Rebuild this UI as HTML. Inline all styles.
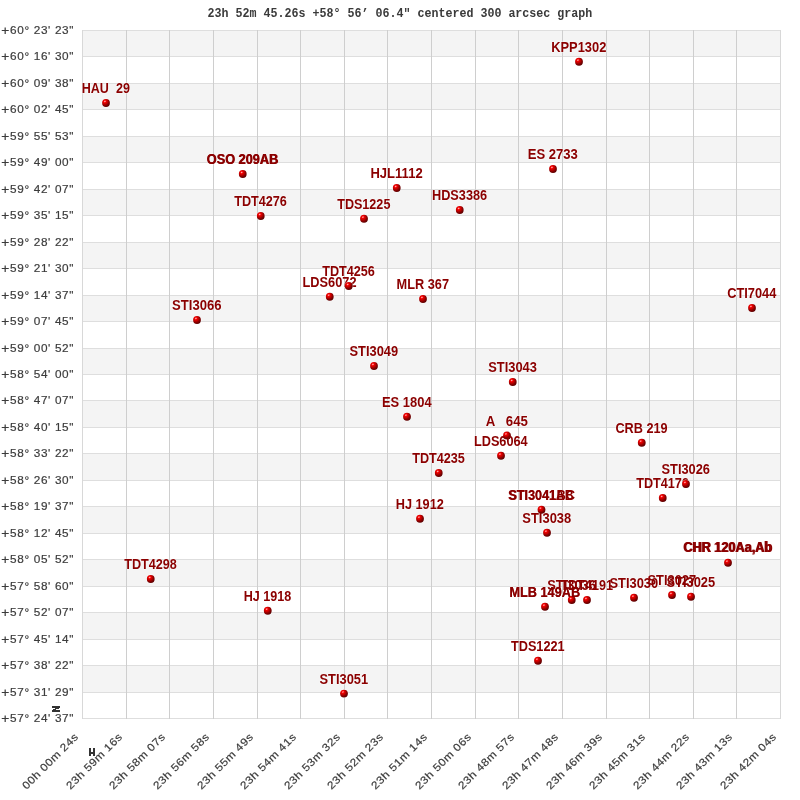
<!DOCTYPE html>
<html><head><meta charset="utf-8"><title>graph</title>
<style>
html,body{margin:0;padding:0;background:#fff;}
svg{display:block;will-change:transform;}
.ax{font-family:"Liberation Sans",sans-serif;font-size:10.7px;fill:#3c3c3c;stroke:#3c3c3c;stroke-width:0.18px;}
.lb{font-family:"Liberation Sans",sans-serif;font-weight:bold;font-size:14px;fill:#8b0000;}
.tt{font-family:"Liberation Mono",monospace;font-weight:bold;font-size:13.5px;fill:#3a3a3a;}
</style></head><body>
<svg width="800" height="800" viewBox="0 0 800 800">
<defs><radialGradient id="g" cx="0.36" cy="0.32" r="0.8" fx="0.34" fy="0.28"><stop offset="0" stop-color="#ff6060"/><stop offset="0.08" stop-color="#ff1818"/><stop offset="0.22" stop-color="#f00000"/><stop offset="0.42" stop-color="#c20000"/><stop offset="0.66" stop-color="#840000"/><stop offset="0.9" stop-color="#5a0000"/></radialGradient>
<g id="p"><circle r="4.6" fill="#fff" fill-opacity="0.55"/><circle r="3.9" fill="url(#g)"/><ellipse cx="-1.0" cy="-1.6" rx="1.0" ry="0.6" fill="#fff" fill-opacity="0.55" transform="rotate(-25 -1 -1.6)"/></g></defs>
<rect width="800" height="800" fill="#fff"/>
<g shape-rendering="crispEdges">
<rect x="82" y="30" width="699" height="26" fill="#f4f4f4"/>
<rect x="82" y="83" width="699" height="26" fill="#f4f4f4"/>
<rect x="82" y="136" width="699" height="26" fill="#f4f4f4"/>
<rect x="82" y="189" width="699" height="26" fill="#f4f4f4"/>
<rect x="82" y="242" width="699" height="26" fill="#f4f4f4"/>
<rect x="82" y="295" width="699" height="26" fill="#f4f4f4"/>
<rect x="82" y="348" width="699" height="26" fill="#f4f4f4"/>
<rect x="82" y="400" width="699" height="27" fill="#f4f4f4"/>
<rect x="82" y="453" width="699" height="27" fill="#f4f4f4"/>
<rect x="82" y="506" width="699" height="27" fill="#f4f4f4"/>
<rect x="82" y="559" width="699" height="27" fill="#f4f4f4"/>
<rect x="82" y="612" width="699" height="27" fill="#f4f4f4"/>
<rect x="82" y="665" width="699" height="27" fill="#f4f4f4"/>
<rect x="82" y="30" width="699" height="1" fill="#dedede"/>
<rect x="82" y="56" width="699" height="1" fill="#dedede"/>
<rect x="82" y="83" width="699" height="1" fill="#dedede"/>
<rect x="82" y="109" width="699" height="1" fill="#dedede"/>
<rect x="82" y="136" width="699" height="1" fill="#dedede"/>
<rect x="82" y="162" width="699" height="1" fill="#dedede"/>
<rect x="82" y="189" width="699" height="1" fill="#dedede"/>
<rect x="82" y="215" width="699" height="1" fill="#dedede"/>
<rect x="82" y="242" width="699" height="1" fill="#dedede"/>
<rect x="82" y="268" width="699" height="1" fill="#dedede"/>
<rect x="82" y="295" width="699" height="1" fill="#dedede"/>
<rect x="82" y="321" width="699" height="1" fill="#dedede"/>
<rect x="82" y="348" width="699" height="1" fill="#dedede"/>
<rect x="82" y="374" width="699" height="1" fill="#dedede"/>
<rect x="82" y="400" width="699" height="1" fill="#dedede"/>
<rect x="82" y="427" width="699" height="1" fill="#dedede"/>
<rect x="82" y="453" width="699" height="1" fill="#dedede"/>
<rect x="82" y="480" width="699" height="1" fill="#dedede"/>
<rect x="82" y="506" width="699" height="1" fill="#dedede"/>
<rect x="82" y="533" width="699" height="1" fill="#dedede"/>
<rect x="82" y="559" width="699" height="1" fill="#dedede"/>
<rect x="82" y="586" width="699" height="1" fill="#dedede"/>
<rect x="82" y="612" width="699" height="1" fill="#dedede"/>
<rect x="82" y="639" width="699" height="1" fill="#dedede"/>
<rect x="82" y="665" width="699" height="1" fill="#dedede"/>
<rect x="82" y="692" width="699" height="1" fill="#dedede"/>
<rect x="82" y="718" width="699" height="1" fill="#dedede"/>
<rect x="82" y="30" width="1" height="689" fill="#d8d8d8"/>
<rect x="126" y="30" width="1" height="689" fill="#cecece"/>
<rect x="169" y="30" width="1" height="689" fill="#cecece"/>
<rect x="213" y="30" width="1" height="689" fill="#cecece"/>
<rect x="257" y="30" width="1" height="689" fill="#cecece"/>
<rect x="300" y="30" width="1" height="689" fill="#cecece"/>
<rect x="344" y="30" width="1" height="689" fill="#cecece"/>
<rect x="387" y="30" width="1" height="689" fill="#cecece"/>
<rect x="431" y="30" width="1" height="689" fill="#cecece"/>
<rect x="475" y="30" width="1" height="689" fill="#cecece"/>
<rect x="518" y="30" width="1" height="689" fill="#cecece"/>
<rect x="562" y="30" width="1" height="689" fill="#cecece"/>
<rect x="606" y="30" width="1" height="689" fill="#cecece"/>
<rect x="649" y="30" width="1" height="689" fill="#cecece"/>
<rect x="693" y="30" width="1" height="689" fill="#cecece"/>
<rect x="736" y="30" width="1" height="689" fill="#cecece"/>
<rect x="780" y="30" width="1" height="689" fill="#d8d8d8"/>
</g>
<text class="tt" transform="translate(207.5,17) scale(0.8642,1)" xml:space="preserve">23h 52m 45.26s +58° 56’ 06.4&quot; centered 300 arcsec graph</text>
<text class="ax" transform="translate(1.3,34.60) scale(1.28,1.22)">+</text>
<text class="ax" transform="translate(10.1,34.30) scale(1.100,1)" letter-spacing="0.591" xml:space="preserve">60° 23' 23&quot;</text>
<text class="ax" transform="translate(1.3,60.60) scale(1.28,1.22)">+</text>
<text class="ax" transform="translate(10.1,60.30) scale(1.100,1)" letter-spacing="0.591" xml:space="preserve">60° 16' 30&quot;</text>
<text class="ax" transform="translate(1.3,87.60) scale(1.28,1.22)">+</text>
<text class="ax" transform="translate(10.1,87.30) scale(1.100,1)" letter-spacing="0.591" xml:space="preserve">60° 09' 38&quot;</text>
<text class="ax" transform="translate(1.3,113.60) scale(1.28,1.22)">+</text>
<text class="ax" transform="translate(10.1,113.30) scale(1.100,1)" letter-spacing="0.591" xml:space="preserve">60° 02' 45&quot;</text>
<text class="ax" transform="translate(1.3,140.60) scale(1.28,1.22)">+</text>
<text class="ax" transform="translate(10.1,140.30) scale(1.100,1)" letter-spacing="0.591" xml:space="preserve">59° 55' 53&quot;</text>
<text class="ax" transform="translate(1.3,166.60) scale(1.28,1.22)">+</text>
<text class="ax" transform="translate(10.1,166.30) scale(1.100,1)" letter-spacing="0.591" xml:space="preserve">59° 49' 00&quot;</text>
<text class="ax" transform="translate(1.3,193.60) scale(1.28,1.22)">+</text>
<text class="ax" transform="translate(10.1,193.30) scale(1.100,1)" letter-spacing="0.591" xml:space="preserve">59° 42' 07&quot;</text>
<text class="ax" transform="translate(1.3,219.60) scale(1.28,1.22)">+</text>
<text class="ax" transform="translate(10.1,219.30) scale(1.100,1)" letter-spacing="0.591" xml:space="preserve">59° 35' 15&quot;</text>
<text class="ax" transform="translate(1.3,246.60) scale(1.28,1.22)">+</text>
<text class="ax" transform="translate(10.1,246.30) scale(1.100,1)" letter-spacing="0.591" xml:space="preserve">59° 28' 22&quot;</text>
<text class="ax" transform="translate(1.3,272.60) scale(1.28,1.22)">+</text>
<text class="ax" transform="translate(10.1,272.30) scale(1.100,1)" letter-spacing="0.591" xml:space="preserve">59° 21' 30&quot;</text>
<text class="ax" transform="translate(1.3,299.60) scale(1.28,1.22)">+</text>
<text class="ax" transform="translate(10.1,299.30) scale(1.100,1)" letter-spacing="0.591" xml:space="preserve">59° 14' 37&quot;</text>
<text class="ax" transform="translate(1.3,325.60) scale(1.28,1.22)">+</text>
<text class="ax" transform="translate(10.1,325.30) scale(1.100,1)" letter-spacing="0.591" xml:space="preserve">59° 07' 45&quot;</text>
<text class="ax" transform="translate(1.3,352.60) scale(1.28,1.22)">+</text>
<text class="ax" transform="translate(10.1,352.30) scale(1.100,1)" letter-spacing="0.591" xml:space="preserve">59° 00' 52&quot;</text>
<text class="ax" transform="translate(1.3,378.60) scale(1.28,1.22)">+</text>
<text class="ax" transform="translate(10.1,378.30) scale(1.100,1)" letter-spacing="0.591" xml:space="preserve">58° 54' 00&quot;</text>
<text class="ax" transform="translate(1.3,404.60) scale(1.28,1.22)">+</text>
<text class="ax" transform="translate(10.1,404.30) scale(1.100,1)" letter-spacing="0.591" xml:space="preserve">58° 47' 07&quot;</text>
<text class="ax" transform="translate(1.3,431.60) scale(1.28,1.22)">+</text>
<text class="ax" transform="translate(10.1,431.30) scale(1.100,1)" letter-spacing="0.591" xml:space="preserve">58° 40' 15&quot;</text>
<text class="ax" transform="translate(1.3,457.60) scale(1.28,1.22)">+</text>
<text class="ax" transform="translate(10.1,457.30) scale(1.100,1)" letter-spacing="0.591" xml:space="preserve">58° 33' 22&quot;</text>
<text class="ax" transform="translate(1.3,484.60) scale(1.28,1.22)">+</text>
<text class="ax" transform="translate(10.1,484.30) scale(1.100,1)" letter-spacing="0.591" xml:space="preserve">58° 26' 30&quot;</text>
<text class="ax" transform="translate(1.3,510.60) scale(1.28,1.22)">+</text>
<text class="ax" transform="translate(10.1,510.30) scale(1.100,1)" letter-spacing="0.591" xml:space="preserve">58° 19' 37&quot;</text>
<text class="ax" transform="translate(1.3,537.60) scale(1.28,1.22)">+</text>
<text class="ax" transform="translate(10.1,537.30) scale(1.100,1)" letter-spacing="0.591" xml:space="preserve">58° 12' 45&quot;</text>
<text class="ax" transform="translate(1.3,563.60) scale(1.28,1.22)">+</text>
<text class="ax" transform="translate(10.1,563.30) scale(1.100,1)" letter-spacing="0.591" xml:space="preserve">58° 05' 52&quot;</text>
<text class="ax" transform="translate(1.3,590.60) scale(1.28,1.22)">+</text>
<text class="ax" transform="translate(10.1,590.30) scale(1.100,1)" letter-spacing="0.591" xml:space="preserve">57° 58' 60&quot;</text>
<text class="ax" transform="translate(1.3,616.60) scale(1.28,1.22)">+</text>
<text class="ax" transform="translate(10.1,616.30) scale(1.100,1)" letter-spacing="0.591" xml:space="preserve">57° 52' 07&quot;</text>
<text class="ax" transform="translate(1.3,643.60) scale(1.28,1.22)">+</text>
<text class="ax" transform="translate(10.1,643.30) scale(1.100,1)" letter-spacing="0.591" xml:space="preserve">57° 45' 14&quot;</text>
<text class="ax" transform="translate(1.3,669.60) scale(1.28,1.22)">+</text>
<text class="ax" transform="translate(10.1,669.30) scale(1.100,1)" letter-spacing="0.591" xml:space="preserve">57° 38' 22&quot;</text>
<text class="ax" transform="translate(1.3,696.60) scale(1.28,1.22)">+</text>
<text class="ax" transform="translate(10.1,696.30) scale(1.100,1)" letter-spacing="0.591" xml:space="preserve">57° 31' 29&quot;</text>
<text class="ax" transform="translate(1.3,722.60) scale(1.28,1.22)">+</text>
<text class="ax" transform="translate(10.1,722.30) scale(1.100,1)" letter-spacing="0.591" xml:space="preserve">57° 24' 37&quot;</text>
<text class="ax" transform="translate(79.00,737.50) rotate(-45) scale(1.120,1) translate(-66.34,0)" letter-spacing="0.407" xml:space="preserve">00h 00m 24s</text>
<text class="ax" transform="translate(123.00,737.50) rotate(-45) scale(1.120,1) translate(-66.34,0)" letter-spacing="0.407" xml:space="preserve">23h 59m 16s</text>
<text class="ax" transform="translate(166.00,737.50) rotate(-45) scale(1.120,1) translate(-66.34,0)" letter-spacing="0.407" xml:space="preserve">23h 58m 07s</text>
<text class="ax" transform="translate(210.00,737.50) rotate(-45) scale(1.120,1) translate(-66.34,0)" letter-spacing="0.407" xml:space="preserve">23h 56m 58s</text>
<text class="ax" transform="translate(254.00,737.50) rotate(-45) scale(1.120,1) translate(-66.34,0)" letter-spacing="0.407" xml:space="preserve">23h 55m 49s</text>
<text class="ax" transform="translate(297.00,737.50) rotate(-45) scale(1.120,1) translate(-66.34,0)" letter-spacing="0.407" xml:space="preserve">23h 54m 41s</text>
<text class="ax" transform="translate(341.00,737.50) rotate(-45) scale(1.120,1) translate(-66.34,0)" letter-spacing="0.407" xml:space="preserve">23h 53m 32s</text>
<text class="ax" transform="translate(384.00,737.50) rotate(-45) scale(1.120,1) translate(-66.34,0)" letter-spacing="0.407" xml:space="preserve">23h 52m 23s</text>
<text class="ax" transform="translate(428.00,737.50) rotate(-45) scale(1.120,1) translate(-66.34,0)" letter-spacing="0.407" xml:space="preserve">23h 51m 14s</text>
<text class="ax" transform="translate(472.00,737.50) rotate(-45) scale(1.120,1) translate(-66.34,0)" letter-spacing="0.407" xml:space="preserve">23h 50m 06s</text>
<text class="ax" transform="translate(515.00,737.50) rotate(-45) scale(1.120,1) translate(-66.34,0)" letter-spacing="0.407" xml:space="preserve">23h 48m 57s</text>
<text class="ax" transform="translate(559.00,737.50) rotate(-45) scale(1.120,1) translate(-66.34,0)" letter-spacing="0.407" xml:space="preserve">23h 47m 48s</text>
<text class="ax" transform="translate(603.00,737.50) rotate(-45) scale(1.120,1) translate(-66.34,0)" letter-spacing="0.407" xml:space="preserve">23h 46m 39s</text>
<text class="ax" transform="translate(646.00,737.50) rotate(-45) scale(1.120,1) translate(-66.34,0)" letter-spacing="0.407" xml:space="preserve">23h 45m 31s</text>
<text class="ax" transform="translate(690.00,737.50) rotate(-45) scale(1.120,1) translate(-66.34,0)" letter-spacing="0.407" xml:space="preserve">23h 44m 22s</text>
<text class="ax" transform="translate(733.00,737.50) rotate(-45) scale(1.120,1) translate(-66.34,0)" letter-spacing="0.407" xml:space="preserve">23h 43m 13s</text>
<text class="ax" transform="translate(777.00,737.50) rotate(-45) scale(1.120,1) translate(-66.34,0)" letter-spacing="0.407" xml:space="preserve">23h 42m 04s</text>
<g fill="#333" shape-rendering="crispEdges"><rect x="52" y="706" width="8" height="2"/><rect x="52" y="710" width="8" height="2"/><rect x="57" y="708" width="2" height="1"/><rect x="55" y="708" width="2" height="1"/><rect x="53" y="709" width="3" height="1"/><rect x="89" y="748" width="2" height="8"/><rect x="93" y="748" width="2" height="8"/><rect x="89" y="752" width="6" height="2"/></g>
<text class="lb" x="81.70" y="93.00" textLength="48.20" lengthAdjust="spacingAndGlyphs" xml:space="preserve" fill="none" stroke="#fff" stroke-opacity="0.5" stroke-width="1.2" stroke-linejoin="round" style="fill:none">HAU  29</text>
<text class="lb" x="551.20" y="51.75" textLength="55.20" lengthAdjust="spacingAndGlyphs" xml:space="preserve" fill="none" stroke="#fff" stroke-opacity="0.5" stroke-width="1.2" stroke-linejoin="round" style="fill:none">KPP1302</text>
<text class="lb" x="527.70" y="159.00" textLength="50.20" lengthAdjust="spacingAndGlyphs" xml:space="preserve" fill="none" stroke="#fff" stroke-opacity="0.5" stroke-width="1.2" stroke-linejoin="round" style="fill:none">ES 2733</text>
<text class="lb" x="206.80" y="164.00" textLength="71.50" lengthAdjust="spacingAndGlyphs" xml:space="preserve" fill="none" stroke="#fff" stroke-opacity="0.5" stroke-width="1.2" stroke-linejoin="round" style="fill:none">OSO 209AB</text>
<text class="lb" x="370.45" y="178.00" textLength="52.20" lengthAdjust="spacingAndGlyphs" xml:space="preserve" fill="none" stroke="#fff" stroke-opacity="0.5" stroke-width="1.2" stroke-linejoin="round" style="fill:none">HJL1112</text>
<text class="lb" x="431.95" y="200.00" textLength="55.20" lengthAdjust="spacingAndGlyphs" xml:space="preserve" fill="none" stroke="#fff" stroke-opacity="0.5" stroke-width="1.2" stroke-linejoin="round" style="fill:none">HDS3386</text>
<text class="lb" x="234.20" y="206.00" textLength="52.70" lengthAdjust="spacingAndGlyphs" xml:space="preserve" fill="none" stroke="#fff" stroke-opacity="0.5" stroke-width="1.2" stroke-linejoin="round" style="fill:none">TDT4276</text>
<text class="lb" x="337.20" y="208.75" textLength="53.20" lengthAdjust="spacingAndGlyphs" xml:space="preserve" fill="none" stroke="#fff" stroke-opacity="0.5" stroke-width="1.2" stroke-linejoin="round" style="fill:none">TDS1225</text>
<text class="lb" x="302.57" y="286.75" textLength="53.95" lengthAdjust="spacingAndGlyphs" xml:space="preserve" fill="none" stroke="#fff" stroke-opacity="0.5" stroke-width="1.2" stroke-linejoin="round" style="fill:none">LDS6072</text>
<text class="lb" x="322.20" y="276.00" textLength="52.70" lengthAdjust="spacingAndGlyphs" xml:space="preserve" fill="none" stroke="#fff" stroke-opacity="0.5" stroke-width="1.2" stroke-linejoin="round" style="fill:none">TDT4256</text>
<text class="lb" x="396.57" y="289.00" textLength="52.45" lengthAdjust="spacingAndGlyphs" xml:space="preserve" fill="none" stroke="#fff" stroke-opacity="0.5" stroke-width="1.2" stroke-linejoin="round" style="fill:none">MLR 367</text>
<text class="lb" x="727.20" y="298.00" textLength="49.20" lengthAdjust="spacingAndGlyphs" xml:space="preserve" fill="none" stroke="#fff" stroke-opacity="0.5" stroke-width="1.2" stroke-linejoin="round" style="fill:none">CTI7044</text>
<text class="lb" x="172.08" y="310.00" textLength="49.45" lengthAdjust="spacingAndGlyphs" xml:space="preserve" fill="none" stroke="#fff" stroke-opacity="0.5" stroke-width="1.2" stroke-linejoin="round" style="fill:none">STI3066</text>
<text class="lb" x="349.45" y="356.00" textLength="48.70" lengthAdjust="spacingAndGlyphs" xml:space="preserve" fill="none" stroke="#fff" stroke-opacity="0.5" stroke-width="1.2" stroke-linejoin="round" style="fill:none">STI3049</text>
<text class="lb" x="488.20" y="372.00" textLength="48.70" lengthAdjust="spacingAndGlyphs" xml:space="preserve" fill="none" stroke="#fff" stroke-opacity="0.5" stroke-width="1.2" stroke-linejoin="round" style="fill:none">STI3043</text>
<text class="lb" x="381.95" y="406.75" textLength="49.70" lengthAdjust="spacingAndGlyphs" xml:space="preserve" fill="none" stroke="#fff" stroke-opacity="0.5" stroke-width="1.2" stroke-linejoin="round" style="fill:none">ES 1804</text>
<text class="lb" x="485.70" y="425.50" textLength="42.20" lengthAdjust="spacingAndGlyphs" xml:space="preserve" fill="none" stroke="#fff" stroke-opacity="0.5" stroke-width="1.2" stroke-linejoin="round" style="fill:none">A   645</text>
<text class="lb" x="615.45" y="432.75" textLength="52.20" lengthAdjust="spacingAndGlyphs" xml:space="preserve" fill="none" stroke="#fff" stroke-opacity="0.5" stroke-width="1.2" stroke-linejoin="round" style="fill:none">CRB 219</text>
<text class="lb" x="473.95" y="445.75" textLength="53.70" lengthAdjust="spacingAndGlyphs" xml:space="preserve" fill="none" stroke="#fff" stroke-opacity="0.5" stroke-width="1.2" stroke-linejoin="round" style="fill:none">LDS6064</text>
<text class="lb" x="412.20" y="463.00" textLength="52.70" lengthAdjust="spacingAndGlyphs" xml:space="preserve" fill="none" stroke="#fff" stroke-opacity="0.5" stroke-width="1.2" stroke-linejoin="round" style="fill:none">TDT4235</text>
<text class="lb" x="636.20" y="488.00" textLength="52.70" lengthAdjust="spacingAndGlyphs" xml:space="preserve" fill="none" stroke="#fff" stroke-opacity="0.5" stroke-width="1.2" stroke-linejoin="round" style="fill:none">TDT4176</text>
<text class="lb" x="661.57" y="474.00" textLength="48.45" lengthAdjust="spacingAndGlyphs" xml:space="preserve" fill="none" stroke="#fff" stroke-opacity="0.5" stroke-width="1.2" stroke-linejoin="round" style="fill:none">STI3026</text>
<text class="lb" x="508.95" y="499.75" textLength="64.70" lengthAdjust="spacingAndGlyphs" xml:space="preserve" fill="none" stroke="#fff" stroke-opacity="0.5" stroke-width="1.2" stroke-linejoin="round" style="fill:none">STI3041AB</text>
<text class="lb" x="395.70" y="508.75" textLength="48.20" lengthAdjust="spacingAndGlyphs" xml:space="preserve" fill="none" stroke="#fff" stroke-opacity="0.5" stroke-width="1.2" stroke-linejoin="round" style="fill:none">HJ 1912</text>
<text class="lb" x="522.32" y="522.75" textLength="48.95" lengthAdjust="spacingAndGlyphs" xml:space="preserve" fill="none" stroke="#fff" stroke-opacity="0.5" stroke-width="1.2" stroke-linejoin="round" style="fill:none">STI3038</text>
<text class="lb" x="683.45" y="551.75" textLength="88.70" lengthAdjust="spacingAndGlyphs" xml:space="preserve" fill="none" stroke="#fff" stroke-opacity="0.5" stroke-width="1.2" stroke-linejoin="round" style="fill:none">CHR 120Aa,Ab</text>
<text class="lb" x="124.20" y="569.00" textLength="52.70" lengthAdjust="spacingAndGlyphs" xml:space="preserve" fill="none" stroke="#fff" stroke-opacity="0.5" stroke-width="1.2" stroke-linejoin="round" style="fill:none">TDT4298</text>
<text class="lb" x="547.20" y="590.00" textLength="48.70" lengthAdjust="spacingAndGlyphs" xml:space="preserve" fill="none" stroke="#fff" stroke-opacity="0.5" stroke-width="1.2" stroke-linejoin="round" style="fill:none">STI3036</text>
<text class="lb" x="560.45" y="590.00" textLength="52.70" lengthAdjust="spacingAndGlyphs" xml:space="preserve" fill="none" stroke="#fff" stroke-opacity="0.5" stroke-width="1.2" stroke-linejoin="round" style="fill:none">TDT4191</text>
<text class="lb" x="609.45" y="587.75" textLength="48.70" lengthAdjust="spacingAndGlyphs" xml:space="preserve" fill="none" stroke="#fff" stroke-opacity="0.5" stroke-width="1.2" stroke-linejoin="round" style="fill:none">STI3030</text>
<text class="lb" x="647.45" y="585.00" textLength="48.70" lengthAdjust="spacingAndGlyphs" xml:space="preserve" fill="none" stroke="#fff" stroke-opacity="0.5" stroke-width="1.2" stroke-linejoin="round" style="fill:none">STI3027</text>
<text class="lb" x="666.45" y="586.75" textLength="48.70" lengthAdjust="spacingAndGlyphs" xml:space="preserve" fill="none" stroke="#fff" stroke-opacity="0.5" stroke-width="1.2" stroke-linejoin="round" style="fill:none">STI3025</text>
<text class="lb" x="509.45" y="596.75" textLength="70.70" lengthAdjust="spacingAndGlyphs" xml:space="preserve" fill="none" stroke="#fff" stroke-opacity="0.5" stroke-width="1.2" stroke-linejoin="round" style="fill:none">MLB 149AB</text>
<text class="lb" x="243.70" y="600.75" textLength="47.70" lengthAdjust="spacingAndGlyphs" xml:space="preserve" fill="none" stroke="#fff" stroke-opacity="0.5" stroke-width="1.2" stroke-linejoin="round" style="fill:none">HJ 1918</text>
<text class="lb" x="510.95" y="650.75" textLength="53.70" lengthAdjust="spacingAndGlyphs" xml:space="preserve" fill="none" stroke="#fff" stroke-opacity="0.5" stroke-width="1.2" stroke-linejoin="round" style="fill:none">TDS1221</text>
<text class="lb" x="319.45" y="683.60" textLength="48.70" lengthAdjust="spacingAndGlyphs" xml:space="preserve" fill="none" stroke="#fff" stroke-opacity="0.5" stroke-width="1.2" stroke-linejoin="round" style="fill:none">STI3051</text>
<text class="lb" x="81.70" y="93.00" textLength="48.20" lengthAdjust="spacingAndGlyphs" xml:space="preserve">HAU  29</text>
<use href="#p" x="106.00" y="103.00"/>
<text class="lb" x="551.20" y="51.75" textLength="55.20" lengthAdjust="spacingAndGlyphs" xml:space="preserve">KPP1302</text>
<use href="#p" x="579.00" y="61.75"/>
<text class="lb" x="527.70" y="159.00" textLength="50.20" lengthAdjust="spacingAndGlyphs" xml:space="preserve">ES 2733</text>
<use href="#p" x="553.00" y="169.00"/>
<text class="lb" x="206.80" y="164.00" textLength="71.50" lengthAdjust="spacingAndGlyphs" xml:space="preserve" transform="translate(-0.3,0)">OSO 209AB</text>
<text class="lb" x="206.80" y="164.00" textLength="71.50" lengthAdjust="spacingAndGlyphs" xml:space="preserve" transform="translate(0.3,0)">OSO 209AB</text>
<use href="#p" x="242.75" y="174.00"/>
<text class="lb" x="370.45" y="178.00" textLength="52.20" lengthAdjust="spacingAndGlyphs" xml:space="preserve">HJL1112</text>
<use href="#p" x="396.75" y="188.00"/>
<text class="lb" x="431.95" y="200.00" textLength="55.20" lengthAdjust="spacingAndGlyphs" xml:space="preserve">HDS3386</text>
<use href="#p" x="459.75" y="210.00"/>
<text class="lb" x="234.20" y="206.00" textLength="52.70" lengthAdjust="spacingAndGlyphs" xml:space="preserve">TDT4276</text>
<use href="#p" x="260.75" y="216.00"/>
<text class="lb" x="337.20" y="208.75" textLength="53.20" lengthAdjust="spacingAndGlyphs" xml:space="preserve">TDS1225</text>
<use href="#p" x="364.00" y="218.75"/>
<text class="lb" x="302.57" y="286.75" textLength="53.95" lengthAdjust="spacingAndGlyphs" xml:space="preserve">LDS6072</text>
<use href="#p" x="329.75" y="296.75"/>
<text class="lb" x="322.20" y="276.00" textLength="52.70" lengthAdjust="spacingAndGlyphs" xml:space="preserve">TDT4256</text>
<use href="#p" x="348.75" y="286.00"/>
<text class="lb" x="396.57" y="289.00" textLength="52.45" lengthAdjust="spacingAndGlyphs" xml:space="preserve">MLR 367</text>
<use href="#p" x="423.00" y="299.00"/>
<text class="lb" x="727.20" y="298.00" textLength="49.20" lengthAdjust="spacingAndGlyphs" xml:space="preserve">CTI7044</text>
<use href="#p" x="752.00" y="308.00"/>
<text class="lb" x="172.08" y="310.00" textLength="49.45" lengthAdjust="spacingAndGlyphs" xml:space="preserve">STI3066</text>
<use href="#p" x="197.00" y="320.00"/>
<text class="lb" x="349.45" y="356.00" textLength="48.70" lengthAdjust="spacingAndGlyphs" xml:space="preserve">STI3049</text>
<use href="#p" x="374.00" y="366.00"/>
<text class="lb" x="488.20" y="372.00" textLength="48.70" lengthAdjust="spacingAndGlyphs" xml:space="preserve">STI3043</text>
<use href="#p" x="512.75" y="382.00"/>
<text class="lb" x="381.95" y="406.75" textLength="49.70" lengthAdjust="spacingAndGlyphs" xml:space="preserve">ES 1804</text>
<use href="#p" x="407.00" y="416.75"/>
<text class="lb" x="485.70" y="425.50" textLength="42.20" lengthAdjust="spacingAndGlyphs" xml:space="preserve">A   645</text>
<use href="#p" x="507.00" y="435.50"/>
<text class="lb" x="615.45" y="432.75" textLength="52.20" lengthAdjust="spacingAndGlyphs" xml:space="preserve">CRB 219</text>
<use href="#p" x="641.75" y="442.75"/>
<text class="lb" x="473.95" y="445.75" textLength="53.70" lengthAdjust="spacingAndGlyphs" xml:space="preserve">LDS6064</text>
<use href="#p" x="501.00" y="455.75"/>
<text class="lb" x="412.20" y="463.00" textLength="52.70" lengthAdjust="spacingAndGlyphs" xml:space="preserve">TDT4235</text>
<use href="#p" x="438.75" y="473.00"/>
<text class="lb" x="636.20" y="488.00" textLength="52.70" lengthAdjust="spacingAndGlyphs" xml:space="preserve">TDT4176</text>
<use href="#p" x="662.75" y="498.00"/>
<text class="lb" x="661.57" y="474.00" textLength="48.45" lengthAdjust="spacingAndGlyphs" xml:space="preserve">STI3026</text>
<use href="#p" x="686.00" y="484.00"/>
<text class="lb" x="508.95" y="499.75" textLength="64.70" lengthAdjust="spacingAndGlyphs" xml:space="preserve">STI3041AB</text>
<text class="lb" x="507.90" y="499.75" textLength="67.20" lengthAdjust="spacingAndGlyphs">STI3041BC</text>
<use href="#p" x="541.50" y="509.75"/>
<text class="lb" x="395.70" y="508.75" textLength="48.20" lengthAdjust="spacingAndGlyphs" xml:space="preserve">HJ 1912</text>
<use href="#p" x="420.00" y="518.75"/>
<text class="lb" x="522.32" y="522.75" textLength="48.95" lengthAdjust="spacingAndGlyphs" xml:space="preserve">STI3038</text>
<use href="#p" x="547.00" y="532.75"/>
<text class="lb" x="683.45" y="551.75" textLength="88.70" lengthAdjust="spacingAndGlyphs" xml:space="preserve" transform="translate(-0.55,0)">CHR 120Aa,Ab</text>
<text class="lb" x="683.45" y="551.75" textLength="88.70" lengthAdjust="spacingAndGlyphs" xml:space="preserve" transform="translate(0.55,0)">CHR 120Aa,Ab</text>
<use href="#p" x="728.00" y="562.75"/>
<text class="lb" x="124.20" y="569.00" textLength="52.70" lengthAdjust="spacingAndGlyphs" xml:space="preserve">TDT4298</text>
<use href="#p" x="150.75" y="579.00"/>
<text class="lb" x="547.20" y="590.00" textLength="48.70" lengthAdjust="spacingAndGlyphs" xml:space="preserve">STI3036</text>
<use href="#p" x="571.75" y="600.00"/>
<text class="lb" x="560.45" y="590.00" textLength="52.70" lengthAdjust="spacingAndGlyphs" xml:space="preserve">TDT4191</text>
<use href="#p" x="587.00" y="600.00"/>
<text class="lb" x="609.45" y="587.75" textLength="48.70" lengthAdjust="spacingAndGlyphs" xml:space="preserve">STI3030</text>
<use href="#p" x="634.00" y="597.75"/>
<text class="lb" x="647.45" y="585.00" textLength="48.70" lengthAdjust="spacingAndGlyphs" xml:space="preserve">STI3027</text>
<use href="#p" x="672.00" y="595.00"/>
<text class="lb" x="666.45" y="586.75" textLength="48.70" lengthAdjust="spacingAndGlyphs" xml:space="preserve">STI3025</text>
<use href="#p" x="691.00" y="596.75"/>
<text class="lb" x="509.45" y="596.75" textLength="70.70" lengthAdjust="spacingAndGlyphs" xml:space="preserve">MLB 149AB</text>
<text class="lb" x="509.45" y="596.75" textLength="70.70" lengthAdjust="spacingAndGlyphs" xml:space="preserve">MLB 149AB</text>
<use href="#p" x="545.00" y="606.75"/>
<text class="lb" x="243.70" y="600.75" textLength="47.70" lengthAdjust="spacingAndGlyphs" xml:space="preserve">HJ 1918</text>
<use href="#p" x="267.75" y="610.75"/>
<text class="lb" x="510.95" y="650.75" textLength="53.70" lengthAdjust="spacingAndGlyphs" xml:space="preserve">TDS1221</text>
<use href="#p" x="538.00" y="660.75"/>
<text class="lb" x="319.45" y="683.60" textLength="48.70" lengthAdjust="spacingAndGlyphs" xml:space="preserve">STI3051</text>
<use href="#p" x="344.00" y="693.60"/>
</svg>
</body></html>
